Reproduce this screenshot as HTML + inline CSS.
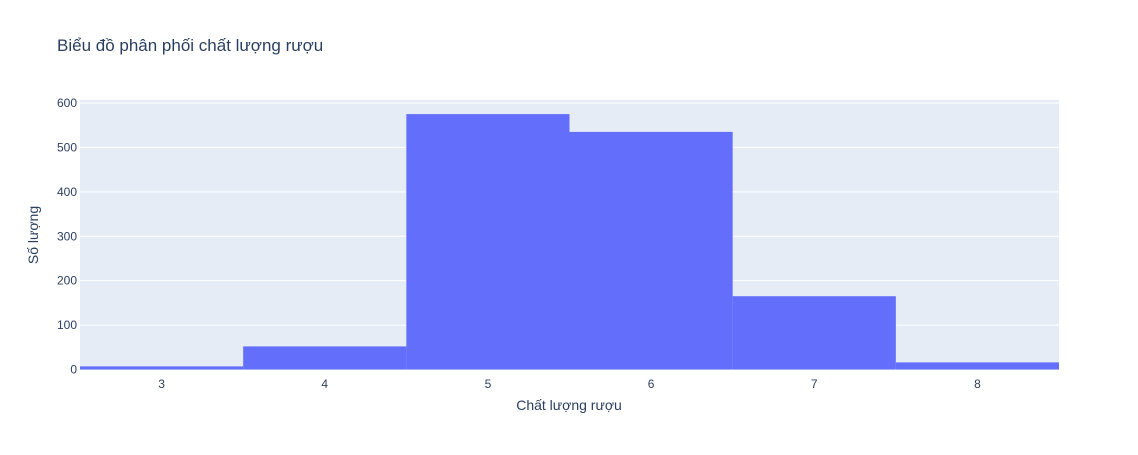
<!DOCTYPE html>
<html><head><meta charset="utf-8"><style>
body{margin:0;background:#fff;font-family:"Liberation Sans",Arial,sans-serif;}
svg text{font-family:"Liberation Sans",Arial,sans-serif;fill:#2a3f5f;}
</style></head><body>
<svg id="chart" width="1138" height="450">
<rect width="1138" height="450" fill="#fff"/>
<text x="57" y="51" font-size="17">Biểu đồ phân phối chất lượng rượu</text>
<rect x="80" y="100" width="979" height="270" fill="#e5ecf6"/>
<g id="grid"></g>
<g id="bars"></g>
<g id="xt"></g>
<text x="569" y="410" font-size="14" text-anchor="middle">Chất lượng rượu</text>
<text transform="translate(38,235) rotate(-90)" font-size="14" text-anchor="middle">Số lượng</text>
</svg>
<script>
const categories=[3,4,5,6,7,8];
const counts=[7,52,575,535,165,16];
const yTicks=[0,100,200,300,400,500,600];
const X0=80,X1=1059,Y0=369.5,Y600=103;
function x(v){return X0+(v-2.5)/6*(X1-X0);}
function y(v){return Y0-(v/600)*(Y0-Y600);}
const ns="http://www.w3.org/2000/svg";
const grid=document.getElementById('grid'),bars=document.getElementById('bars'),xt=document.getElementById('xt');
yTicks.forEach(t=>{
 if(t>0){const l=document.createElementNS(ns,'line');
 l.setAttribute('x1',X0);l.setAttribute('x2',X1);l.setAttribute('y1',y(t));l.setAttribute('y2',y(t));
 l.setAttribute('stroke','#fff');l.setAttribute('stroke-width','1');
 
 
 grid.appendChild(l);}
 const tx=document.createElementNS(ns,'text');
 tx.setAttribute('x',X0-3);tx.setAttribute('y',y(t)+4);tx.setAttribute('text-anchor','end');tx.setAttribute('font-size','12');
 tx.textContent=t;
 
 
 grid.appendChild(tx);
});
categories.forEach((c,i)=>{
 const r=document.createElementNS(ns,'rect');
 r.setAttribute('x',x(c-0.5));r.setAttribute('width',x(c+0.5)-x(c-0.5));
 r.setAttribute('y',y(counts[i]));r.setAttribute('height',Y0-y(counts[i]));
 r.setAttribute('fill','#636efa');
 
 
 bars.appendChild(r);
 const tx=document.createElementNS(ns,'text');
 tx.setAttribute('x',x(c));tx.setAttribute('y',388);tx.setAttribute('text-anchor','middle');tx.setAttribute('font-size','12');
 tx.textContent=c;
 
 
 xt.appendChild(tx);
});
</script>
</body></html>
